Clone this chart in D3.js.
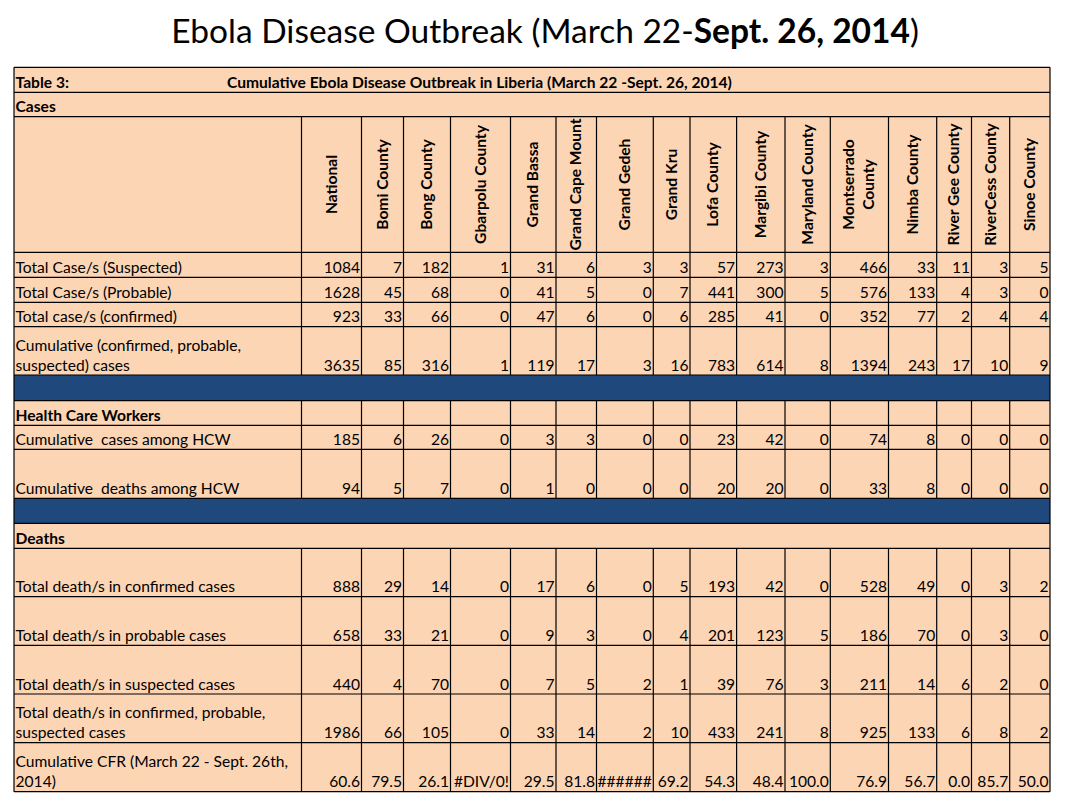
<!DOCTYPE html>
<html>
<head>
<meta charset="utf-8">
<script src="https://cdn.jsdelivr.net/npm/d3@7"></script>
<style>
  body { margin: 0; background: #fff; }
  svg { display: block; font-family: Lato, "Open Sans", sans-serif; }
  .cell { font-size: 15.6px; fill: #000; white-space: pre; }
  .bold { font-weight: bold; }
</style>
</head>
<body>
<svg id="sheet"></svg>
<script>

/* DATA */
var columns = ["National", "Bomi County", "Bong County", "Gbarpolu County", "Grand Bassa",
  "Grand Cape Mount", "Grand Gedeh", "Grand Kru", "Lofa County", "Margibi County",
  "Maryland County", "Montserrado County", "Nimba County", "River Gee County",
  "RiverCess County", "Sinoe County"];

var suspected  = [1084, 7, 182, 1, 31, 6, 3, 3, 57, 273, 3, 466, 33, 11, 3, 5];
var probable   = [1628, 45, 68, 0, 41, 5, 0, 7, 441, 300, 5, 576, 133, 4, 3, 0];
var confirmed  = [923, 33, 66, 0, 47, 6, 0, 6, 285, 41, 0, 352, 77, 2, 4, 4];
var cumulative = [3635, 85, 316, 1, 119, 17, 3, 16, 783, 614, 8, 1394, 243, 17, 10, 9];

var hcwCases  = [185, 6, 26, 0, 3, 3, 0, 0, 23, 42, 0, 74, 8, 0, 0, 0];
var hcwDeaths = [94, 5, 7, 0, 1, 0, 0, 0, 20, 20, 0, 33, 8, 0, 0, 0];

var deathsConfirmed = [888, 29, 14, 0, 17, 6, 0, 5, 193, 42, 0, 528, 49, 0, 3, 2];
var deathsProbable  = [658, 33, 21, 0, 9, 3, 0, 4, 201, 123, 5, 186, 70, 0, 3, 0];
var deathsSuspected = [440, 4, 70, 0, 7, 5, 2, 1, 39, 76, 3, 211, 14, 6, 2, 0];
var deathsTotal     = [1986, 66, 105, 0, 33, 14, 2, 10, 433, 241, 8, 925, 133, 6, 8, 2];
var cfr = [60.6, 79.5, 26.1, "#DIV/0!", 29.5, 81.8, "######", 69.2, 54.3, 48.4, 100.0,
  76.9, 56.7, 0.0, 85.7, 50.0];


/* SETUP */
var width = 1070;
var height = 797;
var left = 14;
var top0 = 67.3;
var peach = "#fcd5b4";
var navy = "#1f497d";

// sheet column widths (label column first)
var colWidths = [287.5, 60, 42, 47, 60, 45.5, 40.5, 56.8, 36.7, 46.6, 48.4, 45.3, 58.2,
  48.2, 34.8, 38.2, 40.3];

var intFormat = d3.format("d");
var cfrFormat = d3.format(".1f");

// row layout: kind decides borders, h is row height
var rows = [
  {kind: "caption", h: 25},
  {kind: "section", label: ["Cases"], h: 24.4},
  {kind: "header", h: 135.6},
  {kind: "data", label: ["Total Case/s (Suspected)"], values: suspected, h: 25},
  {kind: "data", label: ["Total Case/s (Probable)"], values: probable, h: 25},
  {kind: "data", label: ["Total case/s (confirmed)"], values: confirmed, h: 24.4},
  {kind: "data", label: ["Cumulative (confirmed, probable,", "suspected) cases"], values: cumulative, h: 48.3},
  {kind: "band", h: 25.7},
  {kind: "sectionGrid", label: ["Health Care Workers"], h: 24.6},
  {kind: "data", label: ["Cumulative  cases among HCW"], values: hcwCases, h: 24},
  {kind: "data", label: ["Cumulative  deaths among HCW"], values: hcwDeaths, h: 49},
  {kind: "band", h: 25},
  {kind: "section", label: ["Deaths"], h: 25},
  {kind: "data", label: ["Total death/s in confirmed cases"], values: deathsConfirmed, h: 48.4},
  {kind: "data", label: ["Total death/s in probable cases"], values: deathsProbable, h: 48.6},
  {kind: "data", label: ["Total death/s in suspected cases"], values: deathsSuspected, h: 48.7},
  {kind: "data", label: ["Total death/s in confirmed, probable,", "suspected cases"], values: deathsTotal, h: 48.7},
  {kind: "data", label: ["Cumulative CFR (March 22 - Sept. 26th,", "2014)"], values: cfr, h: 49}
];

// cumulative edges for columns and rows
var colEdges = [left];
colWidths.forEach(w => colEdges.push(colEdges[colEdges.length - 1] + w));
var right = colEdges[colEdges.length - 1];

var x = d3.scaleOrdinal()
  .domain(["label"].concat(columns))
  .range(colEdges.slice(0, -1));
var w = d3.scaleOrdinal()
  .domain(["label"].concat(columns))
  .range(colWidths);

var y = top0;
rows.forEach(r => { r.y = y; y += r.h; });
var bottom = y;


/* DRAW */
var svg = d3.select("svg#sheet")
  .attr("width", width)
  .attr("height", height);

// title
var title = svg.append("text")
  .attr("x", 545)
  .attr("y", 43)
  .attr("text-anchor", "middle")
  .style("font-size", "33.5px");
title.append("tspan").text("Ebola Disease Outbreak (March 22-");
title.append("tspan").attr("font-weight", "bold").text("Sept. 26, 2014");
title.append("tspan").text(")");

var table = svg.append("g").attr("id", "table");

// background fills
table.selectAll("rect.fill")
  .data(rows)
  .enter()
  .append("rect")
    .attr("class", "fill")
    .attr("x", left)
    .attr("y", d => d.y)
    .attr("width", right - left)
    .attr("height", d => d.h)
    .attr("fill", d => d.kind === "band" ? navy : peach);

// horizontal rules
var hEdges = rows.map(r => r.y).concat([bottom]);
table.selectAll("line.h")
  .data(hEdges)
  .enter()
  .append("line")
    .attr("class", "h")
    .attr("x1", left)
    .attr("x2", right)
    .attr("y1", d => d)
    .attr("y2", d => d)
    .attr("stroke", "#000")
    .attr("stroke-width", 1.2);

// outer vertical rules
table.selectAll("line.outer")
  .data([left, right])
  .enter()
  .append("line")
    .attr("class", "outer")
    .attr("x1", d => d)
    .attr("x2", d => d)
    .attr("y1", top0)
    .attr("y2", bottom)
    .attr("stroke", "#000")
    .attr("stroke-width", 1.2);

// inner column rules only on gridded rows
var gridRows = rows.filter(r => r.kind === "header" || r.kind === "data" || r.kind === "sectionGrid");
var inner = colEdges.slice(1, -1);
gridRows.forEach(function(r) {
  table.append("g")
    .selectAll("line")
    .data(inner)
    .enter()
    .append("line")
      .attr("x1", d => d)
      .attr("x2", d => d)
      .attr("y1", r.y)
      .attr("y2", r.y + r.h)
      .attr("stroke", "#000")
      .attr("stroke-width", 1.2);
});

// caption row
var caption = rows[0];
table.append("text")
  .attr("class", "cell bold")
  .attr("x", left + 1.5)
  .attr("y", caption.y + caption.h - 4.5)
  .text("Table 3:");
table.append("text")
  .attr("class", "cell bold")
  .attr("x", 227)
  .attr("y", caption.y + caption.h - 4.5)
  .text("Cumulative Ebola Disease Outbreak in Liberia (March 22 -Sept. 26, 2014)");

// row labels (bottom aligned, wrap upward)
var lineH = 20;
rows.filter(r => r.label).forEach(function(r) {
  var bold = r.kind !== "data";
  var n = r.label.length;
  table.append("g")
    .selectAll("text")
    .data(r.label)
    .enter()
    .append("text")
      .attr("class", bold ? "cell bold" : "cell")
      .attr("x", left + 1.5)
      .attr("y", (d, i) => r.y + r.h - 4.5 - (n - 1 - i) * lineH)
      .text(d => d);
});

// column headers, rotated
var header = rows.find(r => r.kind === "header");
var headG = table.append("g");
columns.forEach(function(c) {
  var cx = x(c) + w(c) / 2;
  var cy = header.y + header.h / 2;
  var parts = c === "Montserrado County" ? ["Montserrado", "County"] : [c];
  var g = headG.append("g")
    .attr("transform", "translate(" + cx + "," + cy + ") rotate(-90)");
  g.selectAll("text")
    .data(parts)
    .enter()
    .append("text")
      .attr("class", "cell bold")
      .attr("text-anchor", "middle")
      .attr("x", 0)
      .attr("y", (d, i) => (i - (parts.length - 1) / 2) * lineH + 5)
      .text(d => d);
});

// values, right aligned
rows.filter(r => r.values).forEach(function(r) {
  table.append("g")
    .selectAll("text")
    .data(r.values)
    .enter()
    .append("text")
      .attr("class", "cell")
      .attr("text-anchor", "end")
      .attr("x", (d, i) => x(columns[i]) + w(columns[i]) - 1.5)
      .attr("y", r.y + r.h - 4.5)
      .text(d => typeof d === "string" ? d : (r.values === cfr ? cfrFormat(d) : intFormat(d)));
});

</script>
</body>
</html>
